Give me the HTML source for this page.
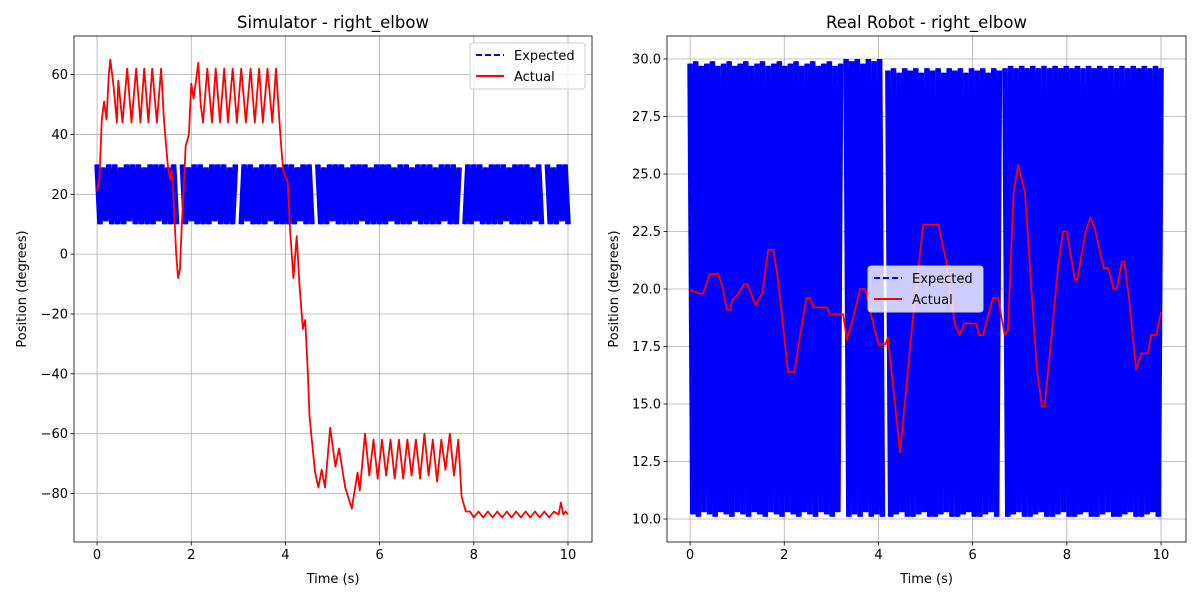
<!DOCTYPE html>
<html><head><meta charset="utf-8"><style>
html,body{margin:0;padding:0;background:#fff;}
svg text{font-family:"DejaVu Sans","Liberation Sans",sans-serif;}
</style></head><body>
<svg id="fig" width="1200" height="600" xmlns="http://www.w3.org/2000/svg"></svg>
<script>
// ---- data ----
const xTicks = [0,2,4,6,8,10];
const simYTicks = [-80,-60,-40,-20,0,20,40,60];
const realYTicks = [10,12.5,15,17.5,20,22.5,25,27.5,30];
const realYLabels = ["10.0","12.5","15.0","17.5","20.0","22.5","25.0","27.5","30.0"];
const simExpected = ("30 10 29 11 30 10 30 10 29 10 30 11 30 10 30 10 29 10 30 10 30 11 30 10 29 10 30 10 n " +
 "30 10 29 11 30 10 30 10 29 10 30 11 30 10 30 10 29 10 30 n " +
 "10 30 11 30 10 29 10 30 10 30 11 30 10 29 10 30 10 30 10 29 11 30 10 30 10 n " +
 "30 10 29 10 30 11 30 10 30 10 29 10 30 10 30 11 30 10 29 10 30 10 30 10 30 11 29 10 30 10 30 10 29 11 30 10 30 10 30 10 29 10 30 11 30 10 30 10 29 n " +
 "10 30 10 30 11 30 10 29 10 30 10 30 10 30 11 29 10 30 10 30 10 30 10 29 11 30 10 n " +
 "30 10 29 10 30 11 30 10").split(" ").map(v=>v==="n"?null:+v);
const simActT = [0,0.05,0.1,0.15,0.2,0.25,0.28,0.35,0.42,0.45,0.54,0.64,0.73,0.83,0.92,1.0,1.09,1.17,1.27,1.36,1.42,1.5,1.55,1.58,1.62,1.68,1.72,1.76,1.8,1.85,1.88,1.95,2.0,2.05,2.1,2.15,2.2,2.25,2.34,2.44,2.52,2.61,2.7,2.78,2.88,2.97,3.06,3.16,3.26,3.35,3.44,3.52,3.62,3.72,3.8,3.89,3.95,4.0,4.05,4.1,4.17,4.24,4.3,4.37,4.42,4.47,4.51,4.56,4.63,4.7,4.77,4.84,4.95,5.06,5.14,5.27,5.41,5.53,5.58,5.69,5.78,5.87,5.96,6.05,6.14,6.23,6.32,6.41,6.5,6.59,6.68,6.77,6.86,6.95,7.04,7.13,7.22,7.31,7.4,7.49,7.58,7.67,7.74,7.83,7.92,8.0,8.1,8.2,8.3,8.4,8.5,8.6,8.7,8.8,8.9,9.0,9.1,9.2,9.3,9.4,9.5,9.6,9.7,9.8,9.85,9.9,9.95,10];
const simActV = [21,25,45,51,45,60,65,56,44,58,44,62,44,62,44,62,44,62,44,62,45,30,25,28,20,0,-8,-5,10,25,36,40,57,52,58,64,50,44,62,44,62,44,62,44,62,44,62,44,62,44,62,44,62,44,62,40,28,26,24,8,-8,6,-11,-25,-22,-38,-54,-62,-73,-78,-72,-78,-58,-71,-65,-78,-85,-73,-79,-60,-74,-62,-75,-62,-74,-62,-75,-62,-75,-62,-74,-62,-75,-60,-74,-62,-76,-62,-72,-60,-74,-62,-81,-86,-86,-88,-86,-88,-86,-88,-86,-88,-86,-88,-86,-88,-86,-88,-86,-88,-86,-88,-86,-87,-83,-87,-86,-87];
const realExpected = ("29.8 10.2 29.9 10.1 29.7 10.3 29.8 10.2 29.9 10.1 29.7 10.3 29.8 10.2 29.9 10.1 29.7 10.3 29.8 10.2 29.9 10.1 29.7 10.3 29.8 10.2 29.9 10.1 29.7 10.3 " +
 "29.8 10.2 29.9 10.1 29.7 10.3 29.8 10.2 29.9 10.1 29.7 10.3 29.8 10.2 29.9 10.1 29.7 10.3 29.8 10.2 29.9 10.1 29.7 10.3 29.8 n " +
 "30 10.1 29.9 10.2 30 10.1 29.8 10.3 30 10.1 29.9 10.2 30 10.1 n " +
 "29.5 10.1 29.6 10.2 29.4 10.3 29.6 10.1 29.5 10.1 29.6 10.2 29.4 10.3 29.6 10.1 29.5 10.1 29.6 10.2 29.4 10.3 29.6 10.1 29.5 10.1 29.6 10.2 29.4 10.3 29.6 10.1 29.5 10.1 29.6 10.2 29.4 10.3 29.6 10.1 29.5 n " +
 "29.6 10.1 29.7 10.2 29.6 10.3 29.7 10.1 29.6 10.1 29.7 10.2 29.6 10.3 29.7 10.1 29.6 10.1 29.7 10.2 29.6 10.3 29.7 10.1 29.6 10.1 29.7 10.2 29.6 10.3 29.7 10.1 " +
 "29.6 10.1 29.7 10.2 29.6 10.3 29.7 10.1 29.6 10.1 29.7 10.2 29.6 10.3 29.7 10.1 29.6 10.1 29.7 10.2 29.6 10.3 29.7 10.1 29.6").split(" ").map(v=>v==="n"?null:+v);
const realActT = [0,0.2,0.28,0.42,0.6,0.7,0.78,0.85,0.89,1.03,1.14,1.22,1.39,1.53,1.66,1.77,1.87,2.08,2.22,2.33,2.47,2.55,2.62,2.9,2.97,3.25,3.33,3.47,3.61,3.72,3.89,4.0,4.15,4.2,4.46,4.74,4.95,5.27,5.44,5.62,5.72,5.82,6.07,6.14,6.22,6.43,6.54,6.68,6.75,6.87,6.97,7.11,7.36,7.47,7.53,7.64,7.82,7.92,8.0,8.17,8.22,8.4,8.5,8.6,8.78,8.88,8.99,9.06,9.17,9.22,9.32,9.47,9.58,9.72,9.79,9.9,10];
const realActV = [19.96,19.8,19.8,20.65,20.65,20.0,19.1,19.1,19.5,19.8,20.2,20.2,19.3,19.8,21.7,21.7,20.4,16.4,16.4,17.9,19.6,19.6,19.2,19.2,18.9,18.9,17.8,18.8,20.0,20.0,18.5,17.6,17.6,17.9,12.9,18.9,22.8,22.8,21.2,18.5,18.0,18.5,18.5,18.0,18.0,19.6,19.6,18.0,18.2,24.2,25.4,24.2,16.6,14.9,14.9,17.2,21.1,22.5,22.5,20.4,20.4,22.5,23.1,22.6,20.9,20.9,20.0,20.0,21.2,21.2,19.6,16.5,17.2,17.2,18.0,18.0,19.0];

const NS="http://www.w3.org/2000/svg";
const fig=document.getElementById('fig');
function mk(tag,attrs,parent,text){const e=document.createElementNS(NS,tag);for(const k in attrs)e.setAttribute(k,attrs[k]);if(text!==undefined)e.textContent=text;(parent||fig).appendChild(e);return e;}

function pathFrom(ts,vs,sx,sy){let d="",pen=false;for(let i=0;i<vs.length;i++){if(vs[i]===null){pen=false;continue;}d+=(pen?"L":"M")+sx(ts[i]).toFixed(1)+","+sy(vs[i]).toFixed(1);pen=true;}return d;}
function fmt(v){return v<0?"\u2212"+Math.abs(v):String(v);}

function panel(o){
  const g=mk('g',{});
  
  
  const sx=t=>o.x0+(t-o.xmin)/(o.xmax-o.xmin)*(o.x1-o.x0);
  const sy=v=>o.y1-(v-o.ymin)/(o.ymax-o.ymin)*(o.y1-o.y0);
  const clipId='clip'+o.name;
  const cp=mk('clipPath',{id:clipId},g);mk('rect',{x:o.x0,y:o.y0,width:o.x1-o.x0,height:o.y1-o.y0},cp);
  xTicks.forEach(t=>{const l=mk('line',{x1:sx(t),x2:sx(t),y1:o.y0,y2:o.y1,stroke:'#b0b0b0','stroke-width':0.8},g);});
  o.yTicks.forEach(v=>{const l=mk('line',{x1:o.x0,x2:o.x1,y1:sy(v),y2:sy(v),stroke:'#b0b0b0','stroke-width':0.8},g);});
  const n=o.exp.length;const et=o.exp.map((_,i)=>i*10/(n-1));
  const ed=pathFrom(et,o.exp,sx,sy);
  const eg=mk('g',{'clip-path':'url(#'+clipId+')'},g);
  
  [-1.2,0,1.2].forEach(dx=>{mk('path',{d:ed,fill:'none',stroke:'#0000ff','stroke-width':3.2,'stroke-linejoin':'bevel',transform:'translate('+dx+',0)'},eg);});
  const pa=mk('path',{d:pathFrom(o.at,o.av,sx,sy),fill:'none',stroke:'#ff0000','stroke-width':1.8,'stroke-linejoin':'round','clip-path':'url(#'+clipId+')'},g);
  
  const fr=mk('rect',{x:o.x0,y:o.y0,width:o.x1-o.x0,height:o.y1-o.y0,fill:'none',stroke:'#000','stroke-width':0.8},g);
  
  xTicks.forEach(t=>{mk('line',{x1:sx(t),x2:sx(t),y1:o.y1,y2:o.y1+3.5,stroke:'#000','stroke-width':0.8},g);
    const tx=mk('text',{x:sx(t),y:o.y1+17,'font-size':13,'text-anchor':'middle',fill:'#000'},g,String(t));
    });
  o.yTicks.forEach((v,i)=>{mk('line',{x1:o.x0-3.5,x2:o.x0,y1:sy(v),y2:sy(v),stroke:'#000','stroke-width':0.8},g);
    const tx=mk('text',{x:o.x0-6,y:sy(v)+4.5,'font-size':13,'text-anchor':'end',fill:'#000'},g,o.yLabels[i]);
    });
  const ti=mk('text',{x:(o.x0+o.x1)/2,y:o.y0-8,'font-size':16.5,'text-anchor':'middle'},g,o.title);
  
  const xl=mk('text',{x:(o.x0+o.x1)/2,y:o.y1+41,'font-size':13,'text-anchor':'middle'},g,'Time (s)');
  
  const yx=o.ylx;const yy=(o.y0+o.y1)/2;
  const yl=mk('text',{x:yx,y:yy,'font-size':13,'text-anchor':'middle',transform:'rotate(-90 '+yx+' '+yy+')'},g,'Position (degrees)');
  
  const lg=mk('g',{},g);
  mk('rect',{x:o.lx,y:o.ly,width:115,height:46,rx:3,fill:'#fff','fill-opacity':0.8,stroke:'#cccccc','stroke-width':1},lg);
  mk('line',{x1:o.lx+6,x2:o.lx+34,y1:o.ly+12,y2:o.ly+12,stroke:'#0000ff','stroke-width':2,'stroke-dasharray':'6,3'},lg);
  const e1=mk('text',{x:o.lx+44,y:o.ly+17,'font-size':13},lg,'Expected');
  mk('line',{x1:o.lx+6,x2:o.lx+34,y1:o.ly+33,y2:o.ly+33,stroke:'#ff0000','stroke-width':2},lg);
  const e2=mk('text',{x:o.lx+44,y:o.ly+38,'font-size':13},lg,'Actual');
}
panel({name:'simulator-chart',x0:74,x1:592,y0:36,y1:542,xmin:-0.49,xmax:10.51,ymin:-96.2,ymax:72.9,yTicks:simYTicks,yLabels:simYTicks.map(fmt),exp:simExpected,at:simActT,av:simActV,title:'Simulator - right_elbow',ylx:26,lx:470,ly:43});
panel({name:'real-robot-chart',x0:667,x1:1186,y0:36,y1:542,xmin:-0.49,xmax:10.53,ymin:9.0,ymax:31.0,yTicks:realYTicks,yLabels:realYLabels,exp:realExpected,at:realActT,av:realActV,title:'Real Robot - right_elbow',ylx:618,lx:868,ly:266});
</script>
</body></html>
